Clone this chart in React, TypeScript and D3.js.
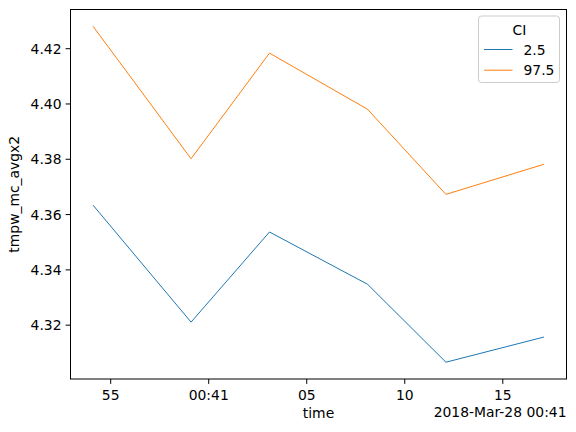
import React from "react";
import * as d3 from "d3";

const times: number[] = [54.1, 59.1, 63.1, 68.1, 72.1, 77.1]; // seconds after 2018-03-28 00:40:00
const lower: number[] = [4.3634, 4.3211, 4.3537, 4.3348, 4.3066, 4.3157];
const upper: number[] = [4.4281, 4.3802, 4.4184, 4.3981, 4.3673, 4.3782];
const seriesNames: string[] = ["2.5", "97.5"];
const seriesColors: string[] = ["#1f77b4", "#ff7f0e"];
const yTicks: number[] = [4.32, 4.34, 4.36, 4.38, 4.4, 4.42];
const xTickSecs: number[] = [55, 60, 65, 70, 75];
const xTickLabels: string[] = ["55", "00:41", "05", "10", "15"];
const offsetText = "2018-Mar-28 00:41";
const base = Date.UTC(2018, 2, 28, 0, 40, 0);

const W = 576, H = 432;
const L = 70.5, R = 566.5, T = 9.5, B = 379;
const FONT = "DejaVu Sans, sans-serif";
const FS = 13.9;

export default function App() {
  const dates = times.map((s) => new Date(base + s * 1000));
  const t0 = d3.min(dates)!.getTime(), t1 = d3.max(dates)!.getTime();
  const xm = (t1 - t0) * 0.05;
  const x = d3.scaleUtc().domain([new Date(t0 - xm), new Date(t1 + xm)]).range([L, R]);
  const all = lower.concat(upper);
  const ymin = d3.min(all)!, ymax = d3.max(all)!;
  const ym = (ymax - ymin) * 0.05;
  const y = d3.scaleLinear().domain([ymin - ym, ymax + ym]).range([B, T]);
  const line = d3.line<[Date, number]>().x((d) => x(d[0])).y((d) => y(d[1]));
  const series = [lower, upper];

  return (
    <svg width={W} height={H} style={{ position: "absolute", left: 0, top: 0, background: "#fff" }} fontFamily={FONT}>
      <rect x={0} y={0} width={W} height={H} fill="#fff" />
      {series.map((vals, i) => (
        <path key={i} d={line(dates.map((d, j) => [d, vals[j]] as [Date, number])) || ""} fill="none" stroke={seriesColors[i]} strokeWidth={1} />
      ))}
      <rect x={L} y={T} width={R - L} height={B - T} fill="none" stroke="#000" strokeWidth={1} />
      {yTicks.map((t) => (
        <g key={t}>
          <line x1={L - 4.9} x2={L} y1={y(t)} y2={y(t)} stroke="#000" strokeWidth={1} />
          <text x={L - 9} y={y(t)} dy="0.36em" textAnchor="end" fontSize={FS} fill="#000">{t.toFixed(2)}</text>
        </g>
      ))}
      {xTickSecs.map((s, i) => {
        const px = x(new Date(base + s * 1000));
        return (
          <g key={s}>
            <line x1={px} x2={px} y1={B} y2={B + 4.9} stroke="#000" strokeWidth={1} />
            <text x={px} y={B + 20.5} textAnchor="middle" fontSize={FS} fill="#000">{xTickLabels[i]}</text>
          </g>
        );
      })}
      <text x={(L + R) / 2} y={B + 39} textAnchor="middle" fontSize={FS} fill="#000">time</text>
      <text x={R} y={B + 38} textAnchor="end" fontSize={FS} fill="#000">{offsetText}</text>
      <text transform={`translate(19,${(T + B) / 2}) rotate(-90)`} textAnchor="middle" fontSize={FS} fill="#000">tmpw_mc_avgx2</text>
      <g>
        <rect x={478.5} y={16} width={81} height={66.5} rx={3} fill="#fff" fillOpacity={0.8} stroke="#cccccc" strokeWidth={1} />
        <text x={519.5} y={29.5} dy="0.36em" textAnchor="middle" fontSize={FS} fill="#000">CI</text>
        {seriesNames.map((n, i) => (
          <g key={n}>
            <line x1={484} x2={512.5} y1={49.5 + i * 20.7} y2={49.5 + i * 20.7} stroke={seriesColors[i]} strokeWidth={1} />
            <text x={523.5} y={49.5 + i * 20.7} dy="0.36em" fontSize={FS} fill="#000">{n}</text>
          </g>
        ))}
      </g>
    </svg>
  );
}
